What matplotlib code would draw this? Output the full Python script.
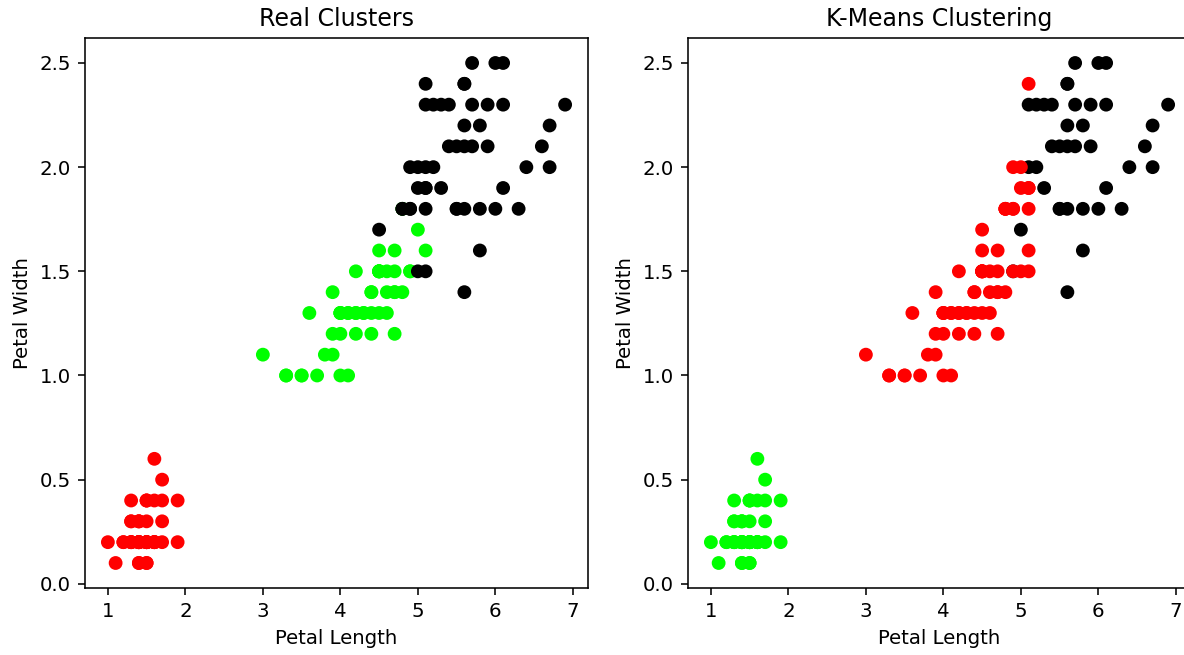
import matplotlib
matplotlib.use("Agg")
import matplotlib.pyplot as plt
import numpy as np

# iris petal measurements (setosa, versicolor, virginica; 50 each)
petal_length = [
    1.4, 1.4, 1.3, 1.5, 1.4, 1.7, 1.4, 1.5, 1.4, 1.5,
    1.5, 1.6, 1.4, 1.1, 1.2, 1.5, 1.3, 1.4, 1.7, 1.5,
    1.7, 1.5, 1.0, 1.7, 1.9, 1.6, 1.6, 1.5, 1.4, 1.6,
    1.6, 1.5, 1.5, 1.4, 1.5, 1.2, 1.3, 1.4, 1.3, 1.5,
    1.3, 1.3, 1.3, 1.6, 1.9, 1.4, 1.6, 1.4, 1.5, 1.4,
    4.7, 4.5, 4.9, 4.0, 4.6, 4.5, 4.7, 3.3, 4.6, 3.9,
    3.5, 4.2, 4.0, 4.7, 3.6, 4.4, 4.5, 4.1, 4.5, 3.9,
    4.8, 4.0, 4.9, 4.7, 4.3, 4.4, 4.8, 5.0, 4.5, 3.5,
    3.8, 3.7, 3.9, 5.1, 4.5, 4.5, 4.7, 4.4, 4.1, 4.0,
    4.4, 4.6, 4.0, 3.3, 4.2, 4.2, 4.2, 4.3, 3.0, 4.1,
    6.0, 5.1, 5.9, 5.6, 5.8, 6.6, 4.5, 6.3, 5.8, 6.1,
    5.1, 5.3, 5.5, 5.0, 5.1, 5.3, 5.5, 6.7, 6.9, 5.0,
    5.7, 4.9, 6.7, 4.9, 5.7, 6.0, 4.8, 4.9, 5.6, 5.8,
    6.1, 6.4, 5.6, 5.1, 5.6, 6.1, 5.6, 5.5, 4.8, 5.4,
    5.6, 5.1, 5.1, 5.9, 5.7, 5.2, 5.0, 5.2, 5.4, 5.1,
]
petal_width = [
    0.2, 0.2, 0.2, 0.2, 0.2, 0.4, 0.3, 0.2, 0.2, 0.1,
    0.2, 0.2, 0.1, 0.1, 0.2, 0.4, 0.4, 0.3, 0.3, 0.3,
    0.2, 0.4, 0.2, 0.5, 0.2, 0.2, 0.4, 0.2, 0.2, 0.2,
    0.2, 0.4, 0.1, 0.2, 0.2, 0.2, 0.2, 0.1, 0.2, 0.2,
    0.3, 0.3, 0.2, 0.6, 0.4, 0.3, 0.2, 0.2, 0.2, 0.2,
    1.4, 1.5, 1.5, 1.3, 1.5, 1.3, 1.6, 1.0, 1.3, 1.4,
    1.0, 1.5, 1.0, 1.4, 1.3, 1.4, 1.5, 1.0, 1.5, 1.1,
    1.8, 1.3, 1.5, 1.2, 1.3, 1.4, 1.4, 1.7, 1.5, 1.0,
    1.1, 1.0, 1.2, 1.6, 1.5, 1.6, 1.5, 1.3, 1.3, 1.3,
    1.2, 1.4, 1.2, 1.0, 1.3, 1.2, 1.3, 1.3, 1.1, 1.3,
    2.5, 1.9, 2.1, 1.8, 2.2, 2.1, 1.7, 1.8, 1.8, 2.5,
    2.0, 1.9, 2.1, 2.0, 2.4, 2.3, 1.8, 2.2, 2.3, 1.5,
    2.3, 2.0, 2.0, 1.8, 2.1, 1.8, 1.8, 1.8, 2.1, 1.6,
    1.9, 2.0, 2.2, 1.5, 1.4, 2.3, 2.4, 1.8, 1.8, 2.1,
    2.4, 2.3, 1.9, 2.3, 2.5, 2.3, 1.9, 2.0, 2.3, 1.8,
]

# true species labels
targets = [0] * 50 + [1] * 50 + [2] * 50

# k-means cluster labels (0 = lime group, 1 = red group, 2 = black group)
kmeans_labels = (
    [0] * 50
    + [1, 1, 2, 1, 1, 1, 1, 1, 1, 1, 1, 1, 1, 1, 1, 1, 1, 1, 1, 1, 1, 1, 1, 1, 1,
       1, 1, 2, 1, 1, 1, 1, 1, 1, 1, 1, 1, 1, 1, 1, 1, 1, 1, 1, 1, 1, 1, 1, 1, 1]
    + [2, 1, 2, 2, 2, 2, 1, 2, 2, 2, 2, 2, 2, 1, 1, 2, 2, 2, 2, 1, 2, 1, 2, 1, 2,
       2, 1, 1, 2, 2, 2, 2, 2, 1, 2, 2, 2, 2, 1, 2, 2, 2, 1, 2, 2, 2, 1, 2, 2, 1]
)

real_colors = np.array(["red", "lime", "black"])
kmeans_colors = np.array(["lime", "red", "black"])

DPI = 142
fig = plt.figure(figsize=(1184 / DPI, 655 / DPI), dpi=DPI)

ax1 = fig.add_axes([0.0718, 0.1023, 0.4248, 0.8397])
ax1.scatter(petal_length, petal_width, c=real_colors[targets])
ax1.set_title("Real Clusters")
ax1.set_xlabel("Petal Length")
ax1.set_ylabel("Petal Width")

ax2 = fig.add_axes([0.5811, 0.1023, 0.4248, 0.8397])
ax2.scatter(petal_length, petal_width, c=kmeans_colors[kmeans_labels])
ax2.set_title("K-Means Clustering")
ax2.set_xlabel("Petal Length")
ax2.set_ylabel("Petal Width")

fig.savefig("out.png", dpi=DPI)
